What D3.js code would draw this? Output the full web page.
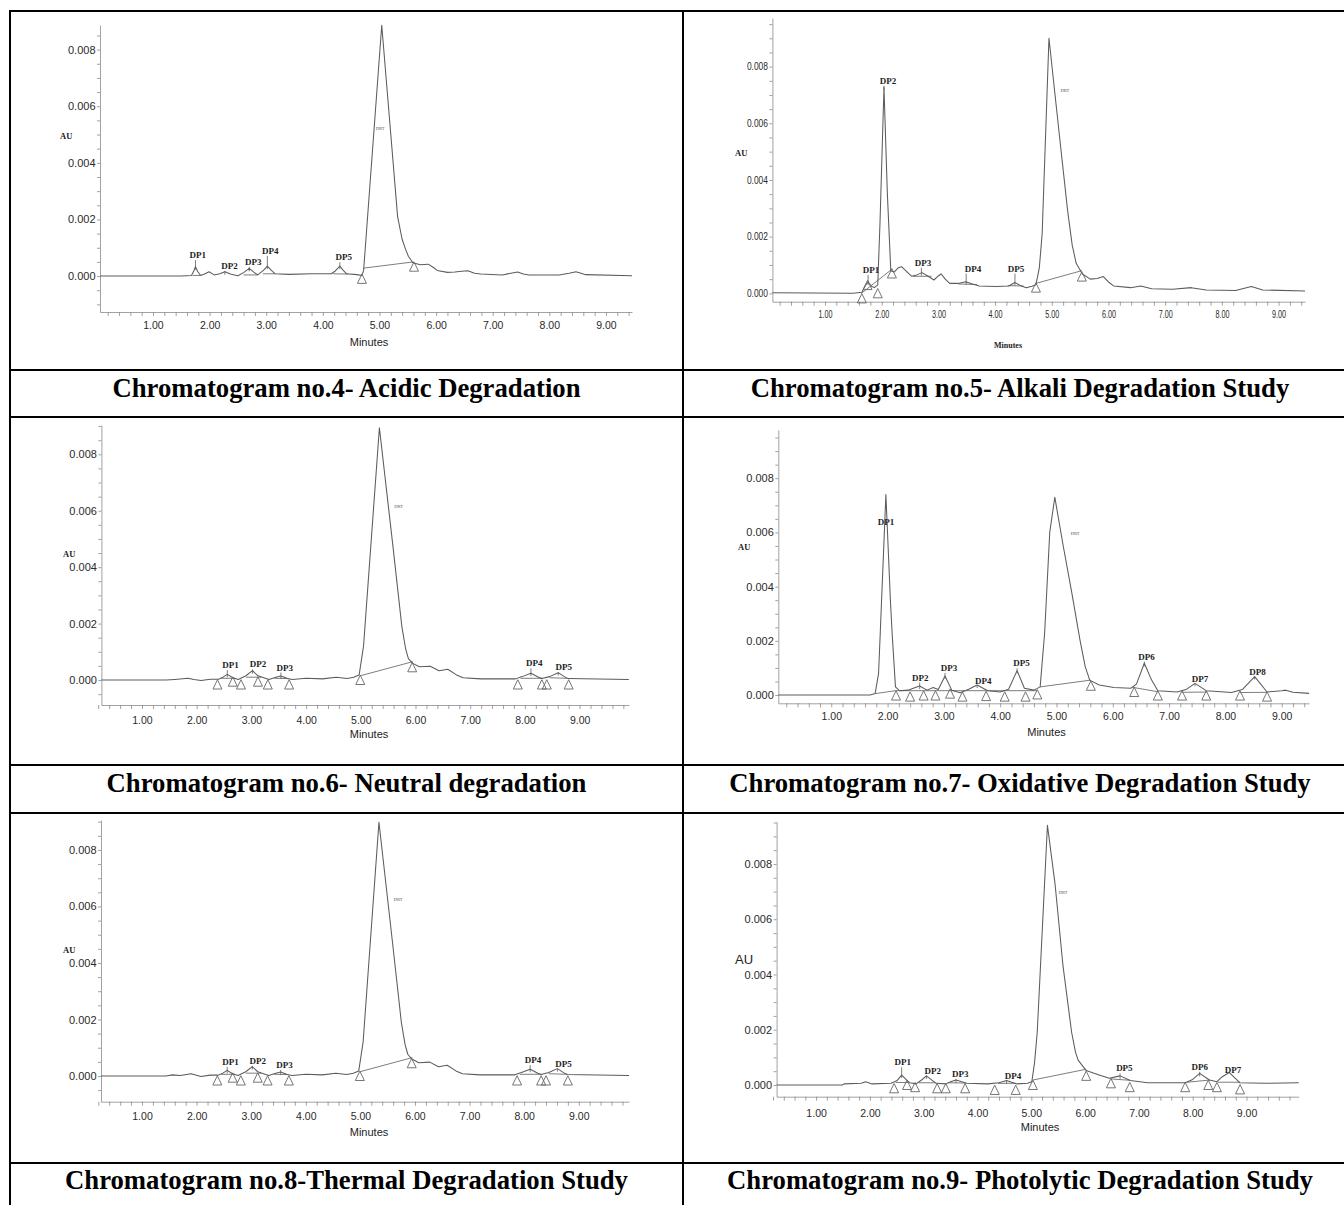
<!DOCTYPE html>
<html>
<head>
<meta charset="utf-8">
<script src="https://cdn.jsdelivr.net/npm/d3@7"></script>
<style>
  html, body { margin: 0; padding: 0; background: #fff; }
  svg { display: block; }
</style>
</head>
<body>
<svg id="fig" width="1344" height="1205"></svg>
<script>
// ---- data: [minutes, AU] ----
const captions = [
  "Chromatogram no.4- Acidic Degradation",
  "Chromatogram no.5- Alkali Degradation Study",
  "Chromatogram no.6- Neutral degradation",
  "Chromatogram no.7- Oxidative Degradation Study",
  "Chromatogram no.8-Thermal Degradation Study",
  "Chromatogram no.9- Photolytic Degradation Study"
];

// peaks: [name, apex min, apex AU, label min, label AU]
const acidTrace = [[0.064,0],[1.5,0],[1.68,0.00002],[1.72,0.00018],[1.75,0.00033],[1.79,0.00016],[1.84,0.00002],[1.92,0.00008],[1.99,0.00015],[2.08,0.00004],[2.18,0.00008],[2.27,0.00015],[2.38,0.00006],[2.5,0.00001],[2.6,0.00012],[2.7,0.00027],[2.78,0.00014],[2.85,0.00004],[2.95,0.0002],[3.02,0.00035],[3.09,0.0002],[3.16,0.00008],[3.4,0.00006],[3.8,0.00008],[4.15,0.00008],[4.22,0.00018],[4.3,0.00035],[4.36,0.0002],[4.42,0.00008],[4.6,0.00005],[4.69,0.00002],[4.72,0.0002],[4.77,0.00155],[5.04,0.00886],[5.2,0.005],[5.32,0.0021],[5.4,0.0013],[5.46,0.00095],[5.51,0.0007],[5.59,0.00047],[5.72,0.0004],[5.86,0.00042],[5.94,0.00032],[6.02,0.0002],[6.2,0.00013],[6.33,0.00014],[6.45,0.00017],[6.56,0.00019],[6.68,0.0001],[6.79,0.00007],[7.17,0.00004],[7.32,0.0001],[7.44,0.00014],[7.54,0.00007],[7.64,0.00004],[8.17,0.00004],[8.35,0.0001],[8.47,0.00015],[8.56,0.0001],[8.64,0.00005],[9.46,0.00001]];
const acidPeaks = [["DP1",1.75,0.00033,1.79,0.00074],["DP2",2.27,0.00015,2.35,0.00036],["DP3",2.7,0.00027,2.77,0.0005],["DP4",3.02,0.00035,3.07,0.00089],["DP5",4.3,0.00035,4.37,0.00066]];
const acidMarks = [[4.69,-0.0001],[5.61,0.00033]];
const acidBases = [[[4.72,0.00028],[5.6,0.0005]],[[1.7,0.00002],[1.84,0.00002]],[[2.6,0.00004],[2.85,0.00004]],[[2.94,0.00008],[3.16,0.00008]],[[4.18,0.00008],[4.45,0.00007]]];
const acidDrt = [5.01,0.00515];

const alkaliTrace = [[0.072,0.00002],[1.5,0],[1.65,0.00004],[1.72,0.0003],[1.76,0.0004],[1.82,0.00025],[1.87,0.0002],[1.93,0.0003],[1.97,0.0025],[2.04,0.00727],[2.1,0.0035],[2.16,0.0008],[2.22,0.00075],[2.29,0.0009],[2.35,0.00094],[2.45,0.00075],[2.53,0.0006],[2.62,0.00065],[2.71,0.00073],[2.82,0.0006],[2.92,0.00047],[2.99,0.0006],[3.05,0.00068],[3.12,0.0005],[3.2,0.00035],[3.35,0.00035],[3.48,0.00041],[3.6,0.00033],[3.72,0.00026],[4.02,0.00024],[4.24,0.00026],[4.35,0.00038],[4.45,0.00027],[4.55,0.0002],[4.65,0.00025],[4.72,0.0003],[4.78,0.0009],[4.83,0.0021],[4.95,0.009],[5.13,0.00565],[5.28,0.0029],[5.36,0.0017],[5.43,0.00106],[5.54,0.00068],[5.68,0.0005],[5.8,0.00052],[5.91,0.00059],[6,0.0004],[6.09,0.00026],[6.39,0.0002],[6.57,0.00026],[6.76,0.00016],[7.13,0.00014],[7.46,0.0002],[7.72,0.00012],[8.24,0.0001],[8.52,0.00024],[8.72,0.00012],[9.466,0.00008]];
const alkaliPeaks = [["DP1",1.76,0.0004,1.81,0.00082],["DP2",2.04,0.00727,2.11,0.0075],["DP3",2.7,0.00073,2.73,0.00108],["DP4",3.49,0.00041,3.61,0.00087],["DP5",4.35,0.00038,4.37,0.00087]];
const alkaliMarks = [[1.65,-0.00018],[1.75,0.00029],[1.93,0],[2.18,0.0007],[4.72,0.0002],[5.53,0.00059]];
const alkaliBases = [[[1.64,0],[2.18,0.00085]],[[2.55,0.0006],[2.88,0.0006]],[[3.35,0.00033],[3.68,0.00031]],[[4.22,0.00027],[4.5,0.00026]],[[4.72,0.00035],[5.53,0.0008]]];
const alkaliDrt = [5.23,0.0071];

const neutralTrace = [[0.258,0],[1.44,0],[1.6,0.00002],[1.84,0.00006],[1.95,0.00002],[2.08,-0.00002],[2.25,0.00003],[2.4,0.00003],[2.48,0.0001],[2.56,0.0002],[2.66,0.00008],[2.76,0.00002],[2.9,0.00015],[3.02,0.00033],[3.12,0.00015],[3.2,0.0001],[3.32,0.00002],[3.45,0.0001],[3.54,0.00014],[3.66,0.00005],[3.75,0.00002],[4,0.00006],[4.3,0.00004],[4.55,0.0001],[4.75,0.00005],[4.87,0.0001],[4.97,0.00018],[5.05,0.0012],[5.34,0.00894],[5.59,0.0047],[5.75,0.0019],[5.82,0.0011],[5.87,0.00076],[5.95,0.00059],[6.07,0.00047],[6.27,0.00049],[6.43,0.00033],[6.59,0.00038],[6.75,0.00018],[6.87,0.00008],[7.19,0.00004],[7.83,0.00004],[7.95,0.00012],[8.11,0.00024],[8.25,0.0001],[8.31,0.00005],[8.45,0.00012],[8.61,0.00026],[8.72,0.00012],[8.79,0.00005],[9.9,0.00002]];
const neutralPeaks = [["DP1",2.56,0.0002,2.62,0.00053],["DP2",3.02,0.00033,3.12,0.00055],["DP3",3.54,0.00014,3.61,0.00044],["DP4",8.11,0.00024,8.17,0.00059],["DP5",8.61,0.00026,8.71,0.00045]];
const neutralMarks = [[2.38,-0.00016],[2.66,-0.00006],[2.81,-0.00016],[3.12,-0.00006],[3.3,-0.00016],[3.69,-0.00016],[4.99,0],[5.94,0.00045],[7.87,-0.00016],[8.31,-0.00016],[8.4,-0.00016],[8.8,-0.00016]];
const neutralBases = [[[4.99,0.00015],[5.95,0.00065]],[[2.45,0.00006],[2.7,0.00006]],[[2.9,0.0001],[3.18,0.0001]],[[3.42,0.00006],[3.68,0.00005]],[[7.92,0.00006],[8.32,0.00006]],[[8.45,0.00008],[8.78,0.00006]]];
const neutralDrt = [5.69,0.0061];

const oxidTrace = [[0.059,0],[1.69,0],[1.78,0.00006],[1.84,0.0008],[1.87,0.0023],[1.97,0.0074],[2.05,0.0035],[2.08,0.0023],[2.14,0.0003],[2.21,0.00016],[2.36,0.00018],[2.47,0.00026],[2.57,0.00033],[2.7,0.00018],[2.81,0.00028],[2.9,0.0002],[3.02,0.0007],[3.14,0.00018],[3.29,0.00008],[3.45,0.00022],[3.59,0.00037],[3.78,0.00016],[4,0.00011],[4.15,0.00021],[4.3,0.0009],[4.43,0.00025],[4.6,0.00018],[4.71,0.0003],[4.79,0.0023],[4.88,0.006],[4.97,0.0073],[5.12,0.0055],[5.27,0.0038],[5.42,0.002],[5.51,0.00105],[5.59,0.00055],[5.76,0.00037],[6.02,0.00028],[6.32,0.00025],[6.42,0.0004],[6.56,0.00117],[6.69,0.00055],[6.8,0.00016],[7.14,0.00011],[7.3,0.0002],[7.46,0.00043],[7.66,0.00016],[8.11,0.00009],[8.3,0.0002],[8.52,0.00068],[8.74,0.00011],[9,0.00016],[9.07,0.00018],[9.2,0.0001],[9.485,0.00006]];
const oxidPeaks = [["DP1",1.97,0.0074,1.97,0.0064],["DP2",2.57,0.00033,2.58,0.00064],["DP3",3.02,0.0007,3.09,0.001],["DP4",3.59,0.00037,3.7,0.00053],["DP5",4.3,0.0009,4.38,0.00117],["DP6",6.56,0.00117,6.6,0.00142],["DP7",7.46,0.00043,7.55,0.0006],["DP8",8.52,0.00068,8.57,0.00086]];
const oxidMarks = [[2.15,-0.00002],[2.4,-0.00006],[2.64,-0.00002],[2.85,-0.00002],[3.11,0.00005],[3.33,-0.00006],[3.75,-0.00004],[4.08,-0.00006],[4.45,-0.00006],[4.66,0.00002],[5.61,0.00034],[6.38,0.00011],[6.8,-0.00002],[7.23,-0.00002],[7.66,-0.00002],[8.26,-0.00002],[8.74,-0.00006]];
const oxidBases = [[[1.78,0.00005],[2.14,0.00016],[4.66,0.00016]],[[4.71,0.0003],[5.61,0.00055]],[[6.36,0.00028],[6.8,0.00012]],[[7.23,0.0001],[7.68,0.00011]],[[8.26,0.00009],[8.74,0.0001]]];
const oxidDrt = [5.33,0.0059];

const thermalTrace = [[0.249,0],[1.44,0],[1.56,0.00004],[1.7,0.00002],[1.9,0.00008],[2.08,-0.00002],[2.25,0.00003],[2.4,0.00003],[2.48,0.0001],[2.56,0.0002],[2.66,0.00008],[2.76,0.00002],[2.9,0.00015],[3.02,0.00033],[3.12,0.00015],[3.2,0.0001],[3.32,0.00002],[3.45,0.0001],[3.54,0.00014],[3.66,0.00005],[3.75,0.00002],[4,0.00006],[4.3,0.00004],[4.55,0.0001],[4.75,0.00005],[4.87,0.0001],[4.97,0.00018],[5.05,0.0012],[5.34,0.00898],[5.59,0.0047],[5.75,0.0019],[5.82,0.0011],[5.87,0.00076],[5.95,0.00059],[6.07,0.00047],[6.27,0.00049],[6.43,0.00033],[6.59,0.00038],[6.75,0.00018],[6.87,0.00008],[7.19,0.00004],[7.83,0.00004],[7.95,0.00012],[8.11,0.00024],[8.25,0.0001],[8.31,0.00005],[8.45,0.00012],[8.61,0.00026],[8.72,0.00012],[8.79,0.00005],[9.92,0.00002]];
const thermalPeaks = [["DP1",2.56,0.0002,2.62,0.0005],["DP2",3.02,0.00033,3.12,0.00053],["DP3",3.54,0.00014,3.61,0.00039],["DP4",8.11,0.00024,8.16,0.00056],["DP5",8.61,0.00026,8.72,0.00042]];
const thermalMarks = [[2.38,-0.00016],[2.66,-0.00006],[2.81,-0.00016],[3.12,-0.00006],[3.3,-0.00016],[3.69,-0.00016],[4.99,0],[5.94,0.00045],[7.87,-0.00016],[8.31,-0.00016],[8.4,-0.00016],[8.8,-0.00016]];
const thermalBases = [[[4.99,0.00015],[5.95,0.00065]],[[2.45,0.00006],[2.7,0.00006]],[[2.9,0.0001],[3.18,0.0001]],[[3.42,0.00006],[3.68,0.00005]],[[7.92,0.00006],[8.32,0.00006]],[[8.45,0.00008],[8.78,0.00006]]];
const thermalDrt = [5.69,0.0062];

const photoTrace = [[0.266,0],[1.49,0],[1.52,0.00004],[1.84,0.00006],[1.92,0.00012],[2.04,0.00004],[2.39,0.00006],[2.5,0.00015],[2.59,0.00036],[2.74,0.00008],[2.86,0.00004],[2.96,0.00018],[3.05,0.00033],[3.23,0.00006],[3.41,0.00004],[3.5,0.00012],[3.6,0.00018],[3.8,0.00006],[4.19,0.00004],[4.4,0.00008],[4.54,0.00016],[4.73,0.00004],[4.93,0.00006],[5.01,0.00012],[5.06,0.0008],[5.11,0.0019],[5.3,0.0094],[5.44,0.0073],[5.59,0.0043],[5.75,0.0019],[5.82,0.0012],[5.87,0.0009],[6.02,0.00052],[6.26,0.00036],[6.45,0.00024],[6.65,0.00033],[6.84,0.00016],[7.16,0.00008],[7.63,0.00008],[7.86,0.00008],[8,0.0002],[8.13,0.00042],[8.31,0.00018],[8.45,0.00012],[8.55,0.0003],[8.68,0.00045],[8.88,0.00008],[9.34,0.00006],[9.97,0.00008]];
const photoPeaks = [["DP1",2.59,0.00036,2.61,0.00082],["DP2",3.05,0.00033,3.17,0.00052],["DP3",3.6,0.00018,3.68,0.0004],["DP4",4.54,0.00016,4.66,0.00033],["DP5",6.65,0.00033,6.73,0.0006],["DP6",8.13,0.00042,8.13,0.00066],["DP7",8.68,0.00045,8.75,0.00054]];
const photoMarks = [[2.45,-0.00012],[2.69,0],[2.84,-0.00008],[3.25,-0.00012],[3.41,-0.00012],[3.77,-0.00012],[4.32,-0.00018],[4.71,-0.00018],[5.03,0],[6.02,0.00033],[6.48,0.00006],[6.83,-0.00008],[7.86,-0.00008],[8.29,0],[8.45,-0.00008],[8.88,-0.00016]];
const photoBases = [[[5.03,0.00018],[6.02,0.00057]],[[2.48,0.00009],[2.72,0.00009]],[[2.9,0.00008],[3.22,0.00008]],[[3.45,0.00008],[3.78,0.00007]],[[4.38,0.00006],[4.72,0.00006]],[[6.48,0.00022],[6.83,0.00017]],[[7.9,0.0001],[8.32,0.00018]],[[8.47,0.0001],[8.88,0.0001]]];
const photoDrt = [5.59,0.0069];

// ---- layout ----
const SANS = "'Liberation Sans', Arial, sans-serif";
const SERIF = "'Liberation Serif', 'Times New Roman', serif";
const ink = "#5c5c5c";

const panels = [
  { trace: acidTrace, peaks: acidPeaks, marks: acidMarks, bases: acidBases, drt: acidDrt,
    xDom: [0.064, 9.46], xPx: [100, 632], yDom: [-0.00127, 0.00887], yPx: [312, 25],
    au: { x: 60, y: 139, font: SERIF, size: 8.5, bold: true },
    minutes: { x: 369, y: 345.5, font: SANS, size: 11, bold: false },
    xBase: 17, xFs: 10.5, yFs: 11, squeeze: 1 },
  { trace: alkaliTrace, peaks: alkaliPeaks, marks: alkaliMarks, bases: alkaliBases, drt: alkaliDrt,
    xDom: [0.072, 9.466], xPx: [772.4, 1305], yDom: [-0.000296, 0.009716], yPx: [301.7, 18],
    au: { x: 735, y: 156, font: SERIF, size: 8.5, bold: true },
    minutes: { x: 1008, y: 348, font: SERIF, size: 8, bold: true },
    xBase: 16, xFs: 10, yFs: 10, squeeze: 0.72 },
  { trace: neutralTrace, peaks: neutralPeaks, marks: neutralMarks, bases: neutralBases, drt: neutralDrt,
    xDom: [0.258, 9.903], xPx: [101.4, 629], yDom: [-0.000886, 0.009039], yPx: [705, 425],
    au: { x: 63, y: 557, font: SERIF, size: 8.5, bold: true },
    minutes: { x: 369, y: 738, font: SANS, size: 11, bold: false },
    xBase: 19, xFs: 10.5, yFs: 11, squeeze: 1 },
  { trace: oxidTrace, peaks: oxidPeaks, marks: oxidMarks, bases: oxidBases, drt: oxidDrt,
    xDom: [0.059, 9.485], xPx: [778.3, 1309], yDom: [-0.000306, 0.00978], yPx: [703.3, 430],
    au: { x: 738, y: 550, font: SERIF, size: 8.5, bold: true },
    minutes: { x: 1046.5, y: 735.5, font: SANS, size: 11, bold: false },
    xBase: 17, xFs: 10.5, yFs: 11, squeeze: 1 },
  { trace: thermalTrace, peaks: thermalPeaks, marks: thermalMarks, bases: thermalBases, drt: thermalDrt,
    xDom: [0.249, 9.92], xPx: [101, 629], yDom: [-0.00091, 0.00906], yPx: [1101.7, 820],
    au: { x: 63, y: 953, font: SERIF, size: 8.5, bold: true },
    minutes: { x: 369, y: 1135.5, font: SANS, size: 11, bold: false },
    xBase: 18, xFs: 10.5, yFs: 11, squeeze: 1 },
  { trace: photoTrace, peaks: photoPeaks, marks: photoMarks, bases: photoBases, drt: photoDrt,
    xDom: [0.266, 9.97], xPx: [776.6, 1298.7], yDom: [-0.000424, 0.00953], yPx: [1096.7, 821.7],
    au: { x: 735, y: 964, font: SANS, size: 13, bold: false },
    minutes: { x: 1040, y: 1130.5, font: SANS, size: 11, bold: false },
    xBase: 20, xFs: 10.5, yFs: 11, squeeze: 1 }
];

const svg = d3.select("#fig");
svg.append("rect").attr("width", 1344).attr("height", 1205).attr("fill", "#fff");

function squeezeText(sel, f) {
  if (f === 1) return;
  sel.each(function () {
    const len = this.getComputedTextLength();
    if (len > 0) d3.select(this).attr("textLength", len * f).attr("lengthAdjust", "spacingAndGlyphs");
  });
}

function drawPanel(p) {
  const g = svg.append("g");
  const x = d3.scaleLinear().domain(p.xDom).range(p.xPx);
  const y = d3.scaleLinear().domain(p.yDom).range(p.yPx);

  // y axis: minor ticks every 0.0005, labels every 0.002
  const yTicks = d3.range(Math.ceil(p.yDom[0] / 0.0005), Math.floor(p.yDom[1] / 0.0005) + 1);
  const ya = g.append("g")
    .attr("transform", `translate(${p.xPx[0]},0)`)
    .call(d3.axisLeft(y)
      .tickValues(yTicks.map(i => i * 0.0005))
      .tickSize(3).tickSizeOuter(0).tickPadding(1.5)
      .tickFormat((d, i) => (yTicks[i] >= 0 && yTicks[i] % 4 === 0) ? d.toFixed(3) : ""));
  ya.attr("font-family", SANS).attr("font-size", p.yFs);
  ya.selectAll("path, line").attr("stroke", "#8a8a8a").attr("stroke-width", 0.8);
  ya.selectAll("text").attr("fill", "#2a2a2a");
  squeezeText(ya.selectAll("text"), p.squeeze > 0.9 ? 1 : 0.84);

  // x axis: minor ticks every 0.2 min, labels each minute
  const xTicks = d3.range(1, Math.floor(p.xDom[1] / 0.2) + 1);
  const xa = g.append("g")
    .attr("transform", `translate(0,${p.yPx[0]})`)
    .call(d3.axisBottom(x)
      .tickValues(xTicks.map(i => i * 0.2))
      .tickSize(4).tickSizeOuter(0)
      .tickPadding(p.xBase - 4 - 0.71 * p.xFs)
      .tickFormat((d, i) => xTicks[i] % 5 === 0 ? d.toFixed(2) : ""));
  xa.attr("font-family", SANS).attr("font-size", p.xFs);
  xa.selectAll("path, line").attr("stroke", "#8a8a8a").attr("stroke-width", 0.8);
  xa.selectAll("text").attr("fill", "#2a2a2a");
  squeezeText(xa.selectAll("text"), p.squeeze);

  // axis titles
  g.append("text").attr("x", p.au.x).attr("y", p.au.y)
    .attr("font-family", p.au.font).attr("font-size", p.au.size)
    .attr("font-weight", p.au.bold ? "bold" : "normal").attr("fill", "#222").text("AU");
  g.append("text").attr("x", p.minutes.x).attr("y", p.minutes.y).attr("text-anchor", "middle")
    .attr("font-family", p.minutes.font).attr("font-size", p.minutes.size)
    .attr("font-weight", p.minutes.bold ? "bold" : "normal").attr("fill", "#222").text("Minutes");

  // integration baselines
  const lin = d3.line().x(d => x(d[0])).y(d => y(d[1]));
  g.selectAll(".base").data(p.bases).join("path")
    .attr("d", lin).attr("fill", "none").attr("stroke", ink).attr("stroke-width", 0.8);

  // detector trace (straight segments keep the apexes sharp, as in the scans)
  g.append("path").datum(p.trace).attr("d", lin)
    .attr("fill", "none").attr("stroke", ink).attr("stroke-width", 1.05)
    .attr("stroke-linejoin", "round");

  // peak start / end triangles
  g.selectAll(".mark").data(p.marks).join("path")
    .attr("d", d => {
      const cx = x(d[0]), cy = y(d[1]);
      return `M${cx - 4.5},${cy + 4.5}L${cx},${cy - 4.8}L${cx + 4.5},${cy + 4.5}Z`;
    })
    .attr("fill", "none").attr("stroke", "#666").attr("stroke-width", 0.9);

  // peak labels with leader lines
  p.peaks.forEach(([name, rt, apex, lrt, lau]) => {
    const top = y(lau) + 5, bottom = y(apex) + 3;
    if (bottom - top > 2) {
      g.append("line").attr("x1", x(rt)).attr("x2", x(rt)).attr("y1", top).attr("y2", bottom)
        .attr("stroke", ink).attr("stroke-width", 0.8);
    }
    g.append("text").attr("x", x(lrt)).attr("y", y(lau) + 3).attr("text-anchor", "middle")
      .attr("font-family", SERIF).attr("font-weight", "bold").attr("font-size", 9)
      .attr("fill", "#1e1e1e").text(name);
  });

  g.append("text").attr("x", x(p.drt[0])).attr("y", y(p.drt[1]))
    .attr("text-anchor", "middle").attr("font-family", SERIF).attr("font-size", 4.5)
    .attr("fill", "#555").text("DRT");
}

panels.forEach(drawPanel);

// ---- table frame and captions ----
const frame = svg.append("g").attr("stroke", "#000").attr("stroke-width", 2);
[11, 370, 417, 765, 813, 1163].forEach(yy =>
  frame.append("line").attr("x1", 9).attr("x2", 1344).attr("y1", yy).attr("y2", yy));
[10, 683].forEach(xx =>
  frame.append("line").attr("x1", xx).attr("x2", xx).attr("y1", 10).attr("y2", 1205));

const capY = [396.5, 792, 1189];
captions.forEach((c, i) => {
  svg.append("text")
    .attr("x", i % 2 === 0 ? 346.5 : 1020)
    .attr("y", capY[Math.floor(i / 2)])
    .attr("text-anchor", "middle")
    .attr("font-family", SERIF).attr("font-weight", "bold").attr("font-size", 26.7)
    .attr("fill", "#000").text(c);
});
</script>
</body>
</html>
